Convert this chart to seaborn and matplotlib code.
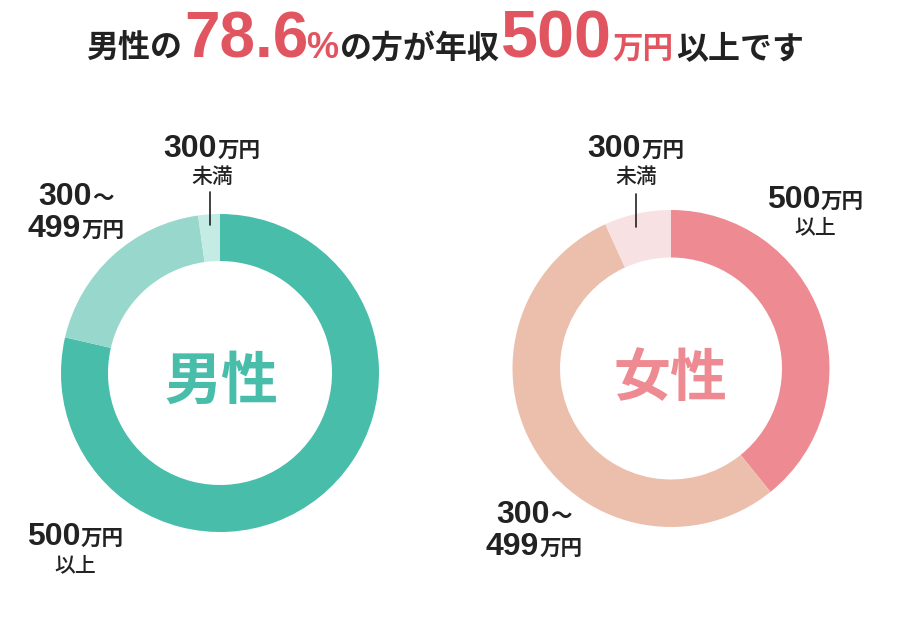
import matplotlib
matplotlib.use("Agg")
import matplotlib.pyplot as plt
import seaborn as sns

# income bands, clockwise from 12 o'clock
bands = ['500万円以上', '300～499万円', '300万円未満']
male_share = [78.6, 19.2, 2.2]
female_share = [39.2, 54.0, 6.8]
male_colors = ['#47bdaa', '#98d7cc', '#c5ebe5']
female_colors = ['#ee8a91', '#ebbfac', '#f7e1e3']

sns.set_theme(style='white')
plt.rcParams['font.family'] = ['Noto Sans CJK JP', 'DejaVu Sans']

W, H = 898, 630
DARK = '#222222'
RED = '#e05560'
NUM = ['Liberation Sans', 'Noto Sans CJK JP']
JP = ['Noto Sans CJK JP', 'DejaVu Sans']

fig = plt.figure(figsize=(W / 100, H / 100), dpi=100)
fig.patch.set_facecolor('white')
renderer = fig.canvas.get_renderer()


def donut(cx, cy, r, r_in, values, colors):
    ax = fig.add_axes([(cx - r) / W, (H - cy - r) / H, 2 * r / W, 2 * r / H])
    ax.pie(values, colors=colors, startangle=90, counterclock=False, radius=1,
           wedgeprops=dict(width=1 - r_in / r, linewidth=0))
    ax.set_xlim(-1, 1)
    ax.set_ylim(-1, 1)
    ax.set_aspect('equal')
    ax.axis('off')
    return ax


def runs(cx, y, parts):
    # parts: (text, size, color, weight, family[, kern]) on one baseline, centred on cx
    texts = []
    cur = 0
    for i, p in enumerate(parts):
        s, size, color, weight, fam = p[:5]
        if i > 0 and len(p) > 5:
            cur += p[5]
        t = fig.text(cur / W, 1 - y / H, s, fontsize=size, color=color,
                     fontweight=weight, family=fam, ha='left', va='baseline')
        cur += t.get_window_extent(renderer).width
        texts.append(t)
    x0 = cx - cur / 2
    for t in texts:
        px, py = t.get_position()
        t.set_position((px + x0 / W, py))


def leader(x, y0, y1):
    fig.add_artist(plt.Line2D([x / W, x / W], [1 - y0 / H, 1 - y1 / H],
                              color=DARK, lw=1.2))


donut(220, 373, 159, 112, male_share, male_colors)
donut(671, 368.5, 158.5, 111, female_share, female_colors)

# title
runs(445, 58, [
    ('男性の', 23, DARK, 'bold', JP),
    ('78.6', 46, RED, 'bold', NUM, 2),
    ('%', 26, RED, 'bold', NUM, -2),
    ('の方が年収', 23, DARK, 'bold', JP, 1),
    ('500', 48, RED, 'bold', NUM, 1),
    ('万円', 22, RED, 'bold', JP, 1),
    ('以上です', 23, DARK, 'bold', JP, 2),
])

# centre labels
fig.text(221 / W, 1 - 399 / H, '男性', fontsize=41, color=male_colors[0],
         fontweight='bold', family=JP, ha='center', va='baseline')
fig.text(670 / W, 1 - 396 / H, '女性', fontsize=41, color=female_colors[0],
         fontweight='bold', family=JP, ha='center', va='baseline')


def band_label(cx, y1, y2, num, unit, sub):
    runs(cx, y1, [(num, 23, DARK, 'bold', NUM), (unit, 15.5, DARK, 'bold', JP)])
    if sub[1] == 'big':
        runs(cx, y2, [(sub[0], 23, DARK, 'bold', NUM), ('万円', 15.5, DARK, 'bold', JP)])
    else:
        runs(cx, y2, [(sub[0], 15, DARK, 'medium', JP)])


# male labels
band_label(212, 157, 183, '300', '万円', ('未満', 'small'))
band_label(76, 205, 237, '300', '～', ('499', 'big'))
band_label(75, 545, 571, '500', '万円', ('以上', 'small'))
leader(210, 192, 225)

# female labels
band_label(636, 157, 183, '300', '万円', ('未満', 'small'))
band_label(815, 208, 233, '500', '万円', ('以上', 'small'))
band_label(534, 523, 555, '300', '～', ('499', 'big'))
leader(636, 194, 227)

fig.savefig('out.png', dpi=100, facecolor='white')
